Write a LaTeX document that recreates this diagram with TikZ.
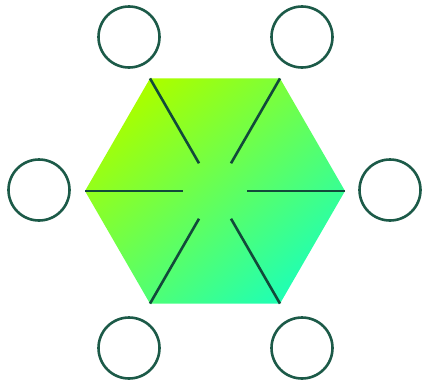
\documentclass[tikz,border=0pt]{standalone}
\usetikzlibrary{calc}
\definecolor{ring}{HTML}{1C5A48}
\definecolor{spoke}{HTML}{124A3A}
\definecolor{gA}{HTML}{A8FF00}
\definecolor{gB}{HTML}{22FFB0}
\begin{document}
\begin{tikzpicture}[x=1pt,y=-1pt,
  ringnode/.style={circle,draw=ring,line width=2.6pt,minimum size=61pt,inner sep=0pt},
  spokeline/.style={draw=spoke,line width=2.6pt}]
\useasboundingbox (0,0) rectangle (422,383);
\coordinate (c) at (215,191);
\foreach \a/\n in {0/v0,60/v1,120/v2,180/v3,240/v4,300/v5}{
  \coordinate (\n) at ($(c)+(\a:130 and -130)$);
  \coordinate (i\n) at ($(c)+(\a:32 and -32)$);
}
\shade[top color=gA,bottom color=gB,shading angle=40] (v0)--(v1)--(v2)--(v3)--(v4)--(v5)--cycle;
\foreach \n in {v0,v1,v2,v3,v4,v5}{
  \draw[spokeline] (\n) -- (i\n);
}
\node[ringnode] (tl) at (129,37) {};
\node[ringnode] (tr) at (302,37) {};
\node[ringnode] (l) at (39,190) {};
\node[ringnode] (r) at (390,190) {};
\node[ringnode] (bl) at (129,348) {};
\node[ringnode] (br) at (302,348) {};
\end{tikzpicture}
\end{document}
